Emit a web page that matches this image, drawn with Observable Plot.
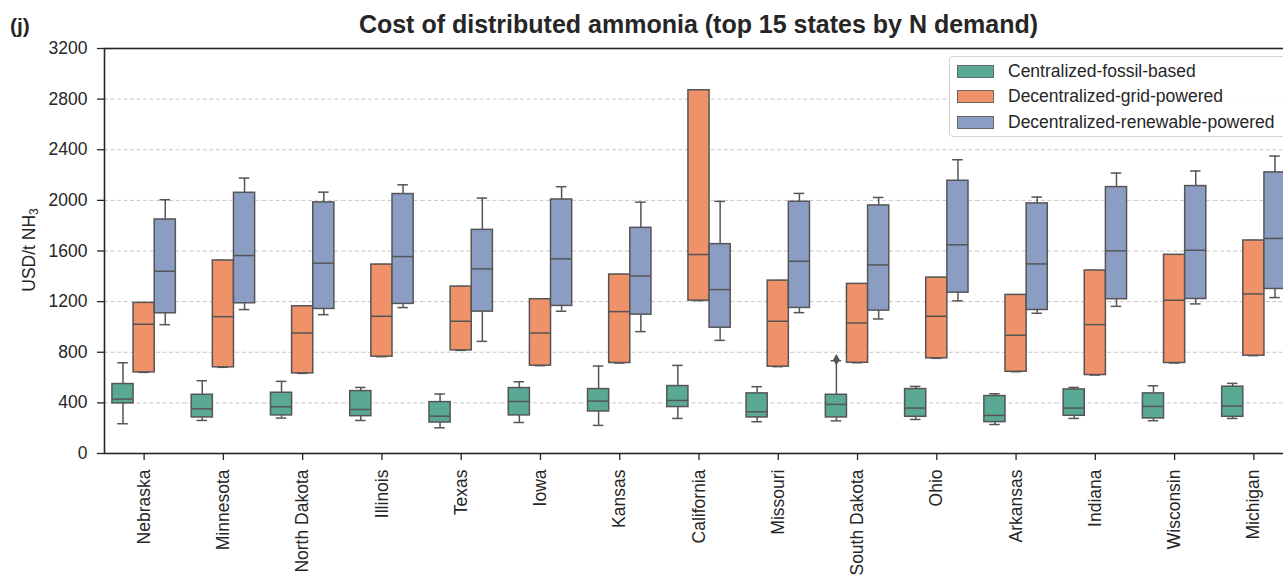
<!DOCTYPE html>
<html><head><meta charset="utf-8">
<script src="https://cdn.jsdelivr.net/npm/d3@7"></script>
<script src="https://cdn.jsdelivr.net/npm/@observablehq/plot@0.6"></script>
<style>
html,body{margin:0;padding:0;background:#fff;overflow:hidden;width:1283px;height:575px;}
#wrap{position:relative;width:1283px;height:575px;overflow:hidden;font-family:"Liberation Sans",Arial,sans-serif;color:#262626;}
#wrap svg{position:absolute;left:0;top:0;max-width:none !important;}
#wrap svg text{font-size:17.5px !important;font-family:"Liberation Sans",Arial,sans-serif !important;fill:#262626;}
.title{position:absolute;left:104px;width:1189px;top:12px;text-align:center;font-size:25px;line-height:25px;font-weight:bold;white-space:nowrap;}
.panel{position:absolute;left:10px;top:15px;font-size:21px;line-height:21px;font-weight:bold;}
.ylab{position:absolute;left:29px;top:250px;transform:translate(-50%,-50%) rotate(-90deg);font-size:17.5px;white-space:nowrap;}
.ylab sub{font-size:12px;vertical-align:-3px;line-height:0;}
.legend{position:absolute;left:949px;top:56px;width:345px;height:81px;border:1px solid #d2d2d2;border-radius:4px;background:rgba(255,255,255,0.9);box-sizing:border-box;}
.legrow{position:absolute;left:7px;height:20px;display:flex;align-items:center;font-size:17.5px;white-space:nowrap;}
.legrow span.p{display:inline-block;width:35px;height:11px;border:1px solid #666;margin-right:14px;}
</style></head><body><div id="wrap"></div>
<script>
const states = ["Nebraska","Minnesota","North Dakota","Illinois","Texas","Iowa","Kansas","California","Missouri","South Dakota","Ohio","Arkansas","Indiana","Wisconsin","Michigan"];
const seriesNames = ["Centralized-fossil-based","Decentralized-grid-powered","Decentralized-renewable-powered"];
const colors = ["#5aa995","#ef9169","#8c9dc4"];
const yTicks = [0,400,800,1200,1600,2000,2400,2800,3200];

// [lower whisker, Q1, median, Q3, upper whisker] per state
const fossil = [
  [235,396,430,549,717],[261,285,353,464,575],[280,301,369,480,570],[261,295,348,493,522],
  [203,245,295,406,470],[245,301,411,517,567],[222,332,414,509,691],[277,367,419,533,696],
  [251,285,330,475,528],[258,285,388,464,733],[269,290,359,509,530],[229,248,301,454,472],
  [277,298,359,506,522],[259,277,372,475,535],[277,290,375,528,554]
];
const grid = [
  [641,641,1021,1190,1190],[681,681,1081,1525,1525],[633,633,952,1163,1163],[765,765,1084,1493,1493],
  [815,815,1045,1319,1319],[694,694,952,1219,1219],[715,715,1121,1414,1414],[1208,1208,1572,2870,2870],
  [686,686,1045,1366,1366],[717,717,1031,1340,1340],[752,752,1084,1390,1390],[646,646,934,1253,1253],
  [620,620,1018,1446,1446],[715,715,1211,1570,1570],[773,773,1261,1683,1683]
];
const renewable = [
  [1018,1108,1440,1849,2005],[1137,1187,1564,2060,2176],[1097,1142,1504,1984,2065],[1153,1182,1556,2050,2123],
  [886,1121,1459,1767,2018],[1124,1166,1538,2007,2108],[963,1097,1403,1783,1986],[894,994,1295,1654,1992],
  [1113,1150,1519,1989,2055],[1063,1129,1490,1960,2023],[1206,1271,1649,2155,2321],[1108,1134,1498,1976,2026],
  [1163,1219,1601,2105,2216],[1182,1221,1606,2113,2232],[1232,1300,1699,2221,2350]
];
const outliers = [{state:"South Dakota", series:"Centralized-fossil-based", value:741}];

const rows = [];
[fossil, grid, renewable].forEach((arr, si) => arr.forEach((v, i) => rows.push({
  state: states[i], series: seriesNames[si], wlo: v[0], q1: v[1], med: v[2], q3: v[3], whi: v[4]
})));

const edge = "#555555";
const common = {fx: "state", x: "series"};
const chart = Plot.plot({
  width: 1300, height: 575, marginLeft: 104, marginRight: 7, marginTop: 48, marginBottom: 122,
  style: {fontFamily: "Liberation Sans, Arial, sans-serif", fontSize: "17.5px", color: "#262626", background: "transparent", overflow: "visible", maxWidth: "none"},
  fx: {domain: states, padding: 0, round: false, label: null},
  x: {domain: seriesNames, paddingInner: 0, paddingOuter: 0.375, round: false, axis: null},
  y: {domain: [0, 3200], label: null},
  color: {domain: seriesNames, range: colors},
  marks: [
    Plot.gridY(yTicks.slice(1, -1), {stroke: "#c6c6c6", strokeOpacity: 1, strokeDasharray: "4,2.5", strokeWidth: 1}),
    Plot.ruleX(rows, {...common, y1: "wlo", y2: "q1", stroke: edge, strokeWidth: 1.5}),
    Plot.ruleX(rows, {...common, y1: "q3", y2: "whi", stroke: edge, strokeWidth: 1.5}),
    Plot.tickY(rows, {...common, y: "wlo", insetLeft: 5.3, insetRight: 5.3, stroke: edge, strokeWidth: 1.5}),
    Plot.tickY(rows, {...common, y: "whi", insetLeft: 5.3, insetRight: 5.3, stroke: edge, strokeWidth: 1.5}),
    Plot.barY(rows, {...common, y1: "q1", y2: "q3", fill: "series", stroke: edge, strokeWidth: 1.5}),
    Plot.tickY(rows, {...common, y: "med", stroke: edge, strokeWidth: 1.5}),
    Plot.dot(outliers, {...common, y: "value", symbol: "diamond", fill: edge, stroke: "none", r: 3.5}),
    Plot.axisY({ticks: yTicks, tickFormat: d => String(d), tickSize: 7, tickPadding: 10, fontSize: 17.5, label: null, stroke: "#262626", strokeWidth: 1.3}),
    Plot.axisFx({anchor: "bottom", tickRotate: -90, tickSize: 7, tickPadding: 9, fontSize: 17.5, label: null, stroke: "#262626", strokeWidth: 1.3}),
    Plot.frame({facet: "super", stroke: "#262626", strokeWidth: 1.6})
  ]
});

const wrap = document.getElementById("wrap");
wrap.appendChild(chart);

const panel = document.createElement("div"); panel.className = "panel"; panel.textContent = "(j)"; wrap.appendChild(panel);
const title = document.createElement("div"); title.className = "title";
title.textContent = "Cost of distributed ammonia (top 15 states by N demand)"; wrap.appendChild(title);
const ylab = document.createElement("div"); ylab.className = "ylab"; ylab.innerHTML = "USD/t NH<sub>3</sub>"; wrap.appendChild(ylab);

const legend = document.createElement("div"); legend.className = "legend";
seriesNames.forEach((name, i) => {
  const r = document.createElement("div"); r.className = "legrow";
  r.style.top = (4 + i * 25.5) + "px";
  const p = document.createElement("span"); p.className = "p"; p.style.background = colors[i];
  r.appendChild(p); r.appendChild(document.createTextNode(name));
  legend.appendChild(r);
});
wrap.appendChild(legend);
</script>
</body></html>
